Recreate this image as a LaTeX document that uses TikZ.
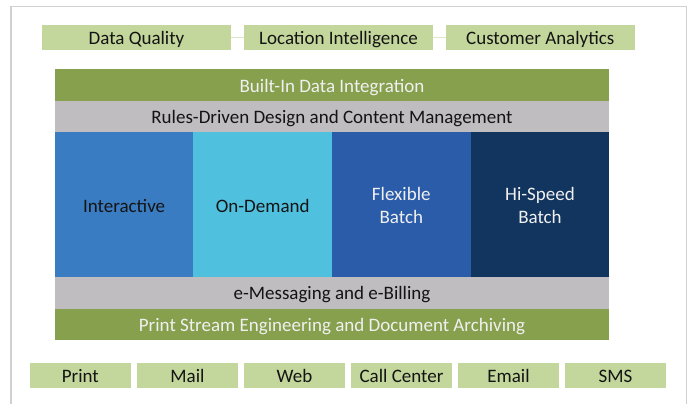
\documentclass[tikz,border=0pt]{standalone}
\usepackage{fontspec}
\setmainfont{Carlito}
\definecolor{lightgreen}{HTML}{C3D69B}
\definecolor{linkgreen}{HTML}{DCE8C4}
\definecolor{dkgreen}{HTML}{87A04E}
\definecolor{midgray}{HTML}{BFBDBF}
\definecolor{framegray}{HTML}{D0D0D0}
\definecolor{cblue}{HTML}{3A7CC1}
\definecolor{ccyan}{HTML}{4FC1DF}
\definecolor{croyal}{HTML}{2A5CAA}
\definecolor{cnavy}{HTML}{12355F}
\newcommand{\toppad}{\rule{0pt}{16pt}}
\tikzset{
  x=1pt,y=-1pt,
  box/.style={rectangle,draw=none,inner sep=0pt,outer sep=0pt,anchor=center,font=\fontsize{19}{23}\selectfont,text=black!92},
  line/.style={box,text height=17pt,text depth=2.6pt},
  tool/.style={line,fill=lightgreen,minimum height=25.5pt},
  topbox/.style={tool,minimum width=189pt},
  chan/.style={tool,minimum width=101pt},
  band/.style={line,minimum width=554.5pt,minimum height=31.5pt},
  greenband/.style={band,fill=dkgreen,text=white!94!black},
  grayband/.style={band,fill=midgray},
  col/.style={box,align=center,minimum width=138.6pt,minimum height=145pt},
  link/.style={draw=linkgreen,line width=1pt},
}
\begin{document}
\begin{tikzpicture}
\useasboundingbox (0,0) rectangle (691,404);
\fill[white] (0,0) rectangle (691,404);
\draw[framegray,line width=1.2pt] (11,410) -- (11,6.5) -- (686.5,6.5) -- (686.5,410);
\clip (0,0) rectangle (691,404);
% top row
\node[topbox] (dq) at (136.5,37.5) {Data Quality};
\node[topbox] (li) at (338.5,37.5) {Location Intelligence};
\node[topbox] (ca) at (540.3,37.5) {Customer Analytics};
\draw[link] (dq) -- (li);
\draw[link] (li) -- (ca);
% bands
\node[greenband] (bi) at (332,85) {Built-In Data Integration};
\node[grayband] (rd) at (332,116.25) {Rules-Driven Design and Content Management};
\node[col,fill=cblue] (ia) at (124.1,204.5) {\toppad Interactive};
\node[col,fill=ccyan] (od) at (262.7,204.5) {\toppad On-Demand};
\node[col,fill=croyal,text=white!94!black] (fb) at (401.3,204.5) {\toppad Flexible\\Batch};
\node[col,fill=cnavy,text=white!94!black] (hs) at (540,204.5) {\toppad Hi-Speed\\Batch};
\node[grayband] (em) at (332,292.75) {e-Messaging and e-Billing};
\node[greenband] (ps) at (332,324.25) {Print Stream Engineering and Document Archiving};
% bottom row
\node[chan] (pr) at (80.3,375.7) {Print};
\node[chan] (ma) at (187.5,375.7) {Mail};
\node[chan] (we) at (294.5,375.7) {Web};
\node[chan] (cc) at (401.5,375.7) {Call Center};
\node[chan] (en) at (508.5,375.7) {Email};
\node[chan] (sm) at (615.5,375.7) {SMS};
\end{tikzpicture}
\end{document}
